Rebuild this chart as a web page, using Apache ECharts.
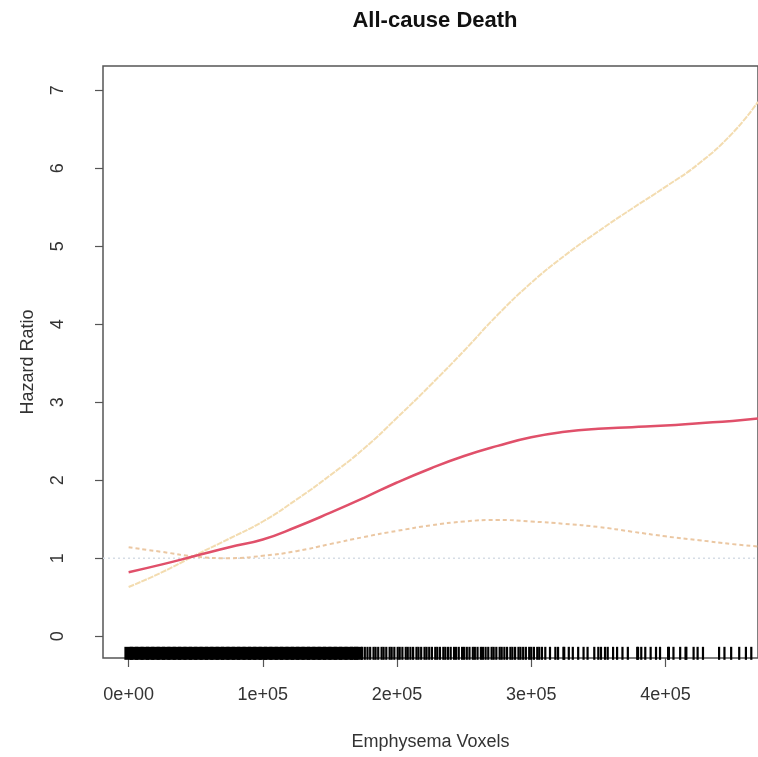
<!DOCTYPE html>
<html>
<head>
<meta charset="utf-8">
<script src="https://cdn.jsdelivr.net/npm/echarts@6/dist/echarts.min.js"></script>
<style>html,body{margin:0;padding:0;background:#fff}#c{width:758px;height:757px}</style>
</head>
<body>
<div id="c"></div>
<script>
// ---- data ----
const titleText = 'All-cause Death';
const xName = 'Emphysema Voxels';
const yName = 'Hazard Ratio';
const xTicks = [0, 100000, 200000, 300000, 400000];
const yTicks = [0, 1, 2, 3, 4, 5, 6, 7];
const curveX = [0, 25000, 50000, 75000, 100000, 125000, 150000, 175000, 200000, 225000, 250000, 275000, 300000, 325000, 350000, 375000, 400000, 425000, 450000, 469000];
const hazard = [0.82, 0.92, 1.03, 1.14, 1.24, 1.40, 1.58, 1.77, 1.97, 2.15, 2.31, 2.44, 2.55, 2.62, 2.66, 2.68, 2.70, 2.73, 2.76, 2.79];
const upperCI = [0.63, 0.82, 1.04, 1.25, 1.47, 1.75, 2.06, 2.40, 2.80, 3.22, 3.66, 4.12, 4.53, 4.88, 5.19, 5.48, 5.76, 6.06, 6.45, 6.85];
const lowerCI = [1.14, 1.08, 1.02, 1.00, 1.03, 1.09, 1.18, 1.27, 1.35, 1.42, 1.47, 1.49, 1.47, 1.44, 1.40, 1.34, 1.28, 1.23, 1.18, 1.15];
const refX = [-19100, 469000];
const refY = [1, 1];
const rugSolidX = [0, 4000, 8000, 12000, 16000, 20000, 24000, 28000, 32000, 36000, 40000, 44000, 48000, 52000, 56000, 60000, 64000, 68000, 72000, 76000, 80000, 84000, 88000, 92000, 96000, 100000, 104000, 108000, 112000, 116000, 120000, 124000, 128000, 132000, 136000, 140000, 144000, 148000, 152000, 156000, 160000, 164000, 168000, 171000];
const rugX = [174000, 176000, 178000, 180000, 182500, 184000, 186000, 188500, 190000, 192000, 194500, 196000, 198000, 200500, 202000, 204000, 206500, 208000, 210000, 212000, 214500, 216000, 218000, 220500, 222000, 224000, 226000, 228500, 230000, 232000, 234500, 236000, 238000, 240000, 242500, 244000, 246000, 248500, 250000, 252000, 254000, 256500, 258000, 260000, 262500, 264000, 266000, 268000, 270500, 272000, 274000, 276500, 278000, 280000, 282000, 284500, 286000, 288000, 290500, 292000, 294000, 296000, 298500, 300000, 302000, 304500, 306000, 308000,
  310500, 314000, 318000, 320000, 324000, 324600, 328000, 331000, 335000, 339000, 342000, 347000, 350000, 352000, 355000, 357000, 361000, 364000, 368000, 372000, 379000, 379600, 382000, 385000, 389000, 393000, 396000, 402000, 402600, 406000, 411000, 415000, 415600, 421000, 424000, 428000, 440000, 444000, 449000, 455000, 460000, 464000];

// ---- chart ----
const RUG_Y = -0.22;
function sci(v) {
  if (v === 0) return '0e+00';
  const e = Math.floor(Math.log10(Math.abs(v)) + 1e-9);
  const m = Math.round(v / Math.pow(10, e) * 100) / 100;
  return m + 'e' + (e < 0 ? '-' : '+') + String(Math.abs(e)).padStart(2, '0');
}
const zip = (xs, ys) => xs.map((x, i) => [x, ys[i]]);
const font = 'Liberation Sans, Arial, sans-serif';

const chart = echarts.init(document.getElementById('c'), null, {renderer: 'canvas'});
chart.setOption({
  animation: false,
  backgroundColor: '#fff',
  graphic: [{
    type: 'text', x: 435, y: 21,
    style: {text: titleText, fontFamily: font, fontWeight: 'bold', fontSize: 22, fill: '#111', textAlign: 'center', textVerticalAlign: 'middle'}
  }],
  grid: {left: 103, right: -9, top: 66, bottom: 99, show: true, borderColor: '#555', borderWidth: 1.5, backgroundColor: 'transparent'},
  xAxis: {
    type: 'value', min: -19100, max: 469000,
    name: xName, nameLocation: 'middle', nameGap: 75,
    nameTextStyle: {fontFamily: font, fontSize: 18, color: '#333'},
    axisLine: {show: false, onZero: false},
    axisTick: {show: true, length: 9, customValues: xTicks, lineStyle: {color: '#555', width: 1.2}},
    axisLabel: {customValues: xTicks, formatter: sci, margin: 28, fontFamily: font, fontSize: 18, color: '#333'},
    splitLine: {show: false}
  },
  yAxis: {
    type: 'value', min: -0.28, max: 7.31,
    name: yName, nameLocation: 'middle', nameGap: 66, nameRotate: 90,
    nameTextStyle: {fontFamily: font, fontSize: 18, color: '#333'},
    axisLine: {show: false, onZero: false},
    axisTick: {show: true, length: 8, customValues: yTicks, lineStyle: {color: '#555', width: 1.2}},
    axisLabel: {customValues: yTicks, rotate: 90, margin: 36, fontFamily: font, fontSize: 18, color: '#333'},
    splitLine: {show: false}
  },
  series: [
    {type: 'line', data: zip(refX, refY), symbol: 'none', silent: true,
     lineStyle: {color: '#d6dde6', width: 1.5, type: [2, 3]}, z: 1},
    {type: 'line', data: zip(curveX, upperCI), smooth: true, symbol: 'none',
     lineStyle: {color: '#f3dcb0', width: 2, type: [6, 1]}, z: 2},
    {type: 'line', data: zip(curveX, lowerCI), smooth: true, symbol: 'none',
     lineStyle: {color: '#ebc7a2', width: 2, type: [4, 3]}, z: 2},
    {type: 'line', data: zip(curveX, hazard), smooth: true, symbol: 'none',
     lineStyle: {color: '#e0506a', width: 2.5}, z: 3},
    {type: 'scatter', data: rugSolidX.map(x => [x, RUG_Y]), symbol: 'rect', symbolSize: [8.5, 13],
     itemStyle: {color: '#000', opacity: 1}, silent: true, z: 4},
    {type: 'scatter', data: rugX.map(x => [x, RUG_Y]), symbol: 'rect', symbolSize: [2.2, 13],
     itemStyle: {color: '#000', opacity: 1}, silent: true, z: 4}
  ]
});
</script>
</body>
</html>
